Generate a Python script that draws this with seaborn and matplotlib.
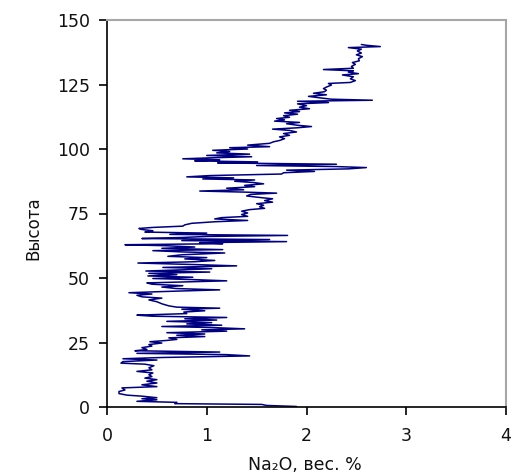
import numpy as np
import pandas as pd
import matplotlib
matplotlib.use("Agg")
import matplotlib.pyplot as plt
import seaborn as sns

# Height (Высота) and Na2O content, in drawing order
height = [
    0.2, 0.6, 1.0, 1.3, 1.8, 2.2, 2.8, 3.2, 3.6, 4.2, 4.6, 5.2, 6.0, 6.6, 7.4, 7.9,
    8.6, 9.3, 10.0, 10.6, 11.2, 11.8, 12.5, 13.2, 13.8, 14.4, 15.2, 16.0, 16.6, 17.0,
    17.6, 18.2, 18.7, 19.2, 19.8, 20.3, 20.8, 21.3, 21.8, 22.3, 23.0, 23.6, 24.2, 24.8,
    25.3, 25.8, 26.2, 26.8, 27.3, 27.8, 28.3, 28.8, 29.4, 29.9, 30.3, 30.8, 31.2, 31.7,
    32.2, 32.7, 33.2, 33.7, 34.2, 34.7, 35.2, 35.6, 36.2, 36.8, 37.3, 37.9, 38.3, 38.7,
    39.2, 40.0, 40.8, 41.5, 42.2, 42.7, 43.3, 43.8, 44.3, 44.8, 45.4, 45.9, 46.5, 47.0,
    47.6, 48.1, 48.5, 48.9, 49.4, 49.8, 50.3, 50.8, 51.3, 51.8, 52.3, 52.7, 53.2, 53.6,
    54.1, 54.7, 55.2, 55.8, 56.3, 56.8, 57.4, 57.9, 58.4, 59.0, 59.7, 60.1, 60.6, 61.0,
    61.5, 62.0, 62.5, 62.9, 63.3, 63.7, 64.1, 64.5, 64.9, 65.3, 65.7, 66.1, 66.5, 66.9,
    67.4, 67.8, 68.3, 68.8, 69.2, 69.6, 70.1, 70.6, 71.2, 71.8, 72.3, 72.9, 73.4, 73.9,
    74.6, 75.2, 75.9, 76.5, 77.0, 77.6, 78.2, 78.8, 79.4, 80.0, 80.7, 81.3, 81.8, 82.4,
    82.9, 83.3, 83.7, 84.2, 84.8, 85.4, 85.9, 86.5, 87.0, 87.5, 88.0, 88.4, 88.8, 89.2,
    89.7, 90.3, 90.8, 91.3, 91.8, 92.3, 92.8, 93.2, 93.6, 94.1, 94.6, 95.0, 95.4, 95.8,
    96.2, 96.6, 97.0, 97.5, 98.0, 98.5, 99.0, 99.5, 100.0, 100.5, 100.9, 101.5, 102.2,
    102.8, 103.3, 104.0, 104.7, 105.3, 106.0, 106.6, 107.2, 107.7, 108.2, 108.7, 109.2,
    109.8, 110.3, 110.8, 111.3, 111.8, 112.3, 112.9, 113.5, 114.0, 114.5, 115.0, 115.6,
    116.2, 116.8, 117.5, 118.0, 118.5, 118.9, 119.3, 119.8, 120.4, 121.0, 121.6, 122.2,
    122.8, 123.4, 124.0, 124.8, 125.4, 125.8, 126.5, 127.2, 128.0, 128.7, 129.2, 129.8,
    130.3, 130.8, 131.3, 132.0, 132.8, 133.5, 134.2, 135.0, 135.8, 136.5, 137.2, 138.0,
    138.7, 139.3, 139.7, 140.2, 140.5,
]
na2o = [
    1.90, 1.60, 1.55, 0.68, 0.70, 0.30, 0.50, 0.35, 0.50, 0.35, 0.20, 0.12, 0.12, 0.18, 0.15, 0.50,
    0.35, 0.50, 0.40, 0.50, 0.38, 0.45, 0.42, 0.46, 0.30, 0.45, 0.42, 0.47, 0.38, 0.14,
    0.16, 0.50, 0.16, 0.56, 1.43, 1.20, 0.30, 1.13, 0.28, 0.40, 0.35, 0.45, 0.42, 0.55,
    0.43, 0.60, 0.70, 0.62, 0.98, 0.70, 0.98, 0.60, 1.20, 0.95, 1.38, 1.05, 0.55, 1.15,
    0.80, 1.05, 0.60, 1.10, 0.78, 1.20, 0.45, 0.30, 0.80, 0.77, 0.98, 0.75, 1.13, 0.70,
    0.62, 0.55, 0.50, 0.42, 0.55, 0.35, 0.30, 0.45, 0.22, 0.60, 1.13, 0.70, 0.55, 0.76,
    0.45, 0.40, 0.78, 1.20, 0.85, 0.46, 0.86, 0.41, 0.70, 0.42, 1.03, 0.39, 0.78, 1.05,
    0.56, 1.30, 0.88, 0.31, 0.88, 1.08, 0.78, 1.00, 0.61, 0.75, 1.18, 0.76, 0.46, 1.16,
    0.55, 0.88, 0.60, 0.18, 1.16, 0.93, 1.80, 0.75, 1.63, 0.35, 0.75, 1.00, 1.81, 0.63,
    1.00, 0.38, 0.46, 0.35, 0.32, 0.46, 0.76, 0.78, 0.85, 1.08, 1.41, 1.08, 1.15, 1.41,
    1.35, 1.41, 1.35, 1.43, 1.58, 1.53, 1.57, 1.50, 1.66, 1.58, 1.66, 1.51, 1.40, 1.44,
    1.70, 1.37, 0.93, 1.37, 1.20, 1.48, 1.38, 1.57, 1.47, 1.28, 1.48, 0.96, 1.27, 0.80,
    1.03, 1.75, 1.77, 2.08, 1.80, 2.42, 2.60, 2.29, 1.50, 2.30, 1.11, 1.51, 0.88, 1.13,
    0.76, 1.06, 1.45, 1.00, 1.43, 1.10, 1.23, 1.06, 1.41, 1.23, 1.63, 1.41, 1.63,
    1.67, 1.73, 1.78, 1.73, 1.83, 1.77, 1.90, 1.83, 1.66, 1.90, 2.05, 1.91,
    1.80, 1.93, 1.68, 1.78, 1.70, 1.83, 1.77, 1.91, 1.78, 1.93, 1.83, 2.03,
    1.93, 2.00, 1.91, 2.22, 1.91, 2.66, 2.25, 2.14, 2.02, 2.20, 2.07, 2.18,
    2.20, 2.17, 2.20, 2.25, 2.22, 2.44, 2.49, 2.44, 2.47, 2.36, 2.52, 2.42,
    2.47, 2.17, 2.47, 2.45, 2.49, 2.46, 2.53, 2.52, 2.56, 2.50, 2.55, 2.51,
    2.55, 2.42, 2.74, 2.60, 2.55,
]
x_ticks = [0, 1, 2, 3, 4]
y_ticks = [0, 25, 50, 75, 100, 125, 150]
x_label = "Na₂O, вес. %"
y_label = "Высота"

df = pd.DataFrame({"Na2O": na2o, "Height": height})

sns.set_theme(style="white")
plt.rcParams["font.family"] = ["DejaVu Sans"]

fig = plt.figure(figsize=(5.14, 4.76), dpi=100)
ax = fig.add_axes([107 / 514, 1 - 407 / 476, (506 - 107) / 514, (407 - 20) / 476])

sns.lineplot(data=df, x="Na2O", y="Height", sort=False, estimator=None,
             color="#000080", linewidth=1.1, ax=ax)

ax.set_xlim(0, 4)
ax.set_ylim(0, 150)
ax.set_xticks(x_ticks)
ax.set_yticks(y_ticks)
ax.set_xticklabels([str(v) for v in x_ticks])
ax.set_yticklabels([str(v) for v in y_ticks])

for s in ["left", "bottom"]:
    ax.spines[s].set_color("black")
    ax.spines[s].set_linewidth(1.2)
for s in ["top", "right"]:
    ax.spines[s].set_color("#a6a6a6")
    ax.spines[s].set_linewidth(1.5)

ax.tick_params(axis="both", which="major", direction="out", length=5.5, width=1.2,
               color="black", labelsize=12.5, labelcolor="#111111")
ax.tick_params(axis="x", pad=9, bottom=True)
ax.tick_params(axis="y", pad=7, left=True)

ax.set_xlabel(x_label, fontsize=12.5, color="#111111")
ax.set_ylabel(y_label, fontsize=12, color="#111111")
ax.xaxis.set_label_coords((305 - 107) / (506 - 107), -(465 - 407) / (407 - 20), transform=ax.transAxes)
ax.yaxis.set_label_coords(-(107 - 33) / (506 - 107), (407 - 228) / (407 - 20), transform=ax.transAxes)
ax.xaxis.label.set_va("center")
ax.yaxis.label.set_va("center")

fig.savefig("out.png", dpi=100, facecolor="white")
